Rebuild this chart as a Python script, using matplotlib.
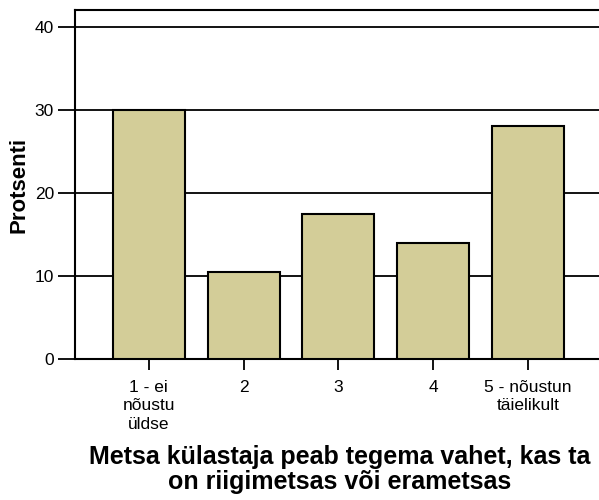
import matplotlib.pyplot as plt

plt.rcParams['font.family'] = ['Liberation Sans', 'DejaVu Sans']

# answer categories and share of respondents (%)
categories = ["1 - ei\nnõustu\nüldse", "2", "3", "4", "5 - nõustun\ntäielikult"]
percents = [30.0, 10.5, 17.5, 13.9, 28.1]
yticks = [0, 10, 20, 30, 40]

fig = plt.figure(figsize=(5.99, 5.0), dpi=100)
ax = fig.add_axes([0.125, 0.282, 0.88, 0.698])

x = list(range(len(categories)))
ax.bar(x, percents, width=0.76, color="#D3CD98", edgecolor="black",
       linewidth=1.5, zorder=3)

# horizontal reference lines behind the bars
for t in yticks[1:]:
    ax.axhline(t, color="black", linewidth=1.3, zorder=1)

ax.set_xlim(-0.78, 4.78)
ax.set_ylim(0, 42)
ax.set_yticks(yticks)
ax.set_xticks(x)
ax.set_xticklabels(categories, fontsize=12.5, linespacing=1.3)
ax.tick_params(axis="y", labelsize=12.5, length=12, width=1.3,
               direction="out", pad=3)
ax.tick_params(axis="x", length=8, width=1.3, direction="out", pad=7)

for side in ["left", "top", "bottom"]:
    ax.spines[side].set_linewidth(1.5)
ax.spines["right"].set_visible(False)

ax.set_ylabel("Protsenti", fontsize=16, fontweight="bold", labelpad=4)
fig.text(0.567, 0.012,
         "Metsa külastaja peab tegema vahet, kas ta\non riigimetsas või erametsas",
         ha="center", va="bottom", fontsize=18, fontweight="bold",
         linespacing=1.05)

fig.savefig("out.png", dpi=100)
